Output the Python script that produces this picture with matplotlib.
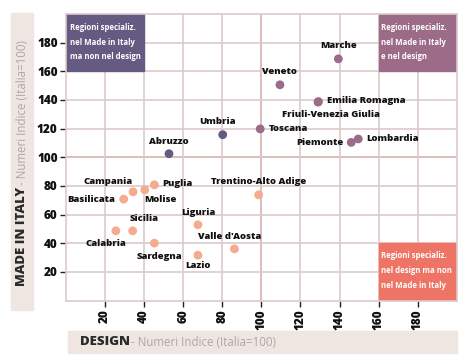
import matplotlib
matplotlib.use("Agg")
import matplotlib.pyplot as plt
from matplotlib.patches import Rectangle

plt.rcParams['font.family'] = ['Open Sans', 'DejaVu Sans']

# dati: indici design (x) e made in Italy (y), Italia = 100
regioni = ['Abruzzo', 'Umbria', 'Marche', 'Veneto', 'Emilia Romagna',
           'Friuli-Venezia Giulia', 'Toscana', 'Piemonte', 'Lombardia',
           'Campania', 'Basilicata', 'Puglia', 'Molise', 'Sicilia', 'Calabria',
           'Sardegna', 'Liguria', 'Lazio', "Valle d'Aosta", 'Trentino-Alto Adige']
design = [52.7, 80.2, 139.4, 109.5, 129.2, 129.0, 99.4, 146.0, 149.6,
          34.3, 29.5, 45.2, 40.3, 34.1, 25.5, 45.2, 67.5, 67.5, 86.2, 98.6]
made_in_italy = [102.5, 115.8, 168.7, 150.6, 138.9, 138.5, 119.8, 110.4, 112.8,
                 75.9, 70.8, 80.8, 77.3, 48.7, 48.7, 40.1, 52.9, 31.7, 36.1, 73.8]
gruppo = ['mi', 'mi', 'both', 'both', 'both', 'both', 'both', 'both', 'both',
          'none', 'none', 'none', 'none', 'none', 'none', 'none', 'none', 'none',
          'none', 'none']

colori = {'mi': '#655a82', 'both': '#9c6b88', 'none': '#f5ab8f', 'des': '#ee7566'}

# posizione etichette (offset in pixel, allineamento)
etichette = {
    'Abruzzo': (0, 12, 'center'), 'Umbria': (-5, 13, 'center'),
    'Marche': (0, 13, 'center'), 'Veneto': (0, 13, 'center'),
    'Emilia Romagna': (9, 1, 'left'), 'Friuli-Venezia Giulia': (13, -12, 'center'),
    'Toscana': (9, 0, 'left'), 'Piemonte': (-8, 0, 'right'),
    'Lombardia': (8, 0, 'left'), 'Campania': (-25, 10, 'center'),
    'Basilicata': (-9, 0, 'right'), 'Puglia': (8, 1, 'left'),
    'Molise': (16, -10, 'center'), 'Sicilia': (11, 12, 'center'),
    'Calabria': (-10, -13, 'center'), 'Sardegna': (5, -13, 'center'),
    'Liguria': (0, 12, 'center'), 'Lazio': (0, -10, 'center'),
    "Valle d'Aosta": (-5, 12, 'center'), 'Trentino-Alto Adige': (0, 13, 'center'),
}

fig = plt.figure(figsize=(4.71, 3.61), dpi=100)
ax = fig.add_axes([0.1403, 0.1673, 0.8293, 0.7939])
ax.set_xlim(0, 200)
ax.set_ylim(0, 200)

grid_col = '#dccbcb'
ticks = [20, 40, 60, 80, 100, 120, 140, 160, 180]
ax.set_xticks(ticks)
ax.set_yticks(ticks)
ax.grid(True, color=grid_col, lw=1.2, zorder=0)
for s in ax.spines.values():
    s.set_color(grid_col)
    s.set_linewidth(1.2)
ax.tick_params(axis='both', length=4, width=1, color='#222222', labelsize=8.5,
               labelcolor='#111111', pad=2)
ax.tick_params(axis='x', rotation=90)
for lab in ax.get_xticklabels() + ax.get_yticklabels():
    lab.set_fontweight('heavy')

ax.axvline(100, color='#e9685a', lw=1.2, zorder=1)
ax.axhline(100, color='#e9685a', lw=1.2, zorder=1)

# riquadri quadranti
ax.add_patch(Rectangle((0, 160), 40, 40, color=colori['mi'], zorder=2))
ax.add_patch(Rectangle((160, 160), 40, 40, color=colori['both'], zorder=2))
ax.add_patch(Rectangle((160, 0), 40, 40, color=colori['des'], zorder=2))

box_txt = dict(color='white', fontsize=5.6, fontweight='bold', va='center', zorder=3)
for i, riga in enumerate(['Regioni specializ.', 'nel Made in Italy', 'ma non nel design']):
    ax.text(2, 190.4 - 10.2 * i, riga, **box_txt)
for i, riga in enumerate(['Regioni specializ.', 'nel Made in Italy', 'e nel design']):
    ax.text(161.2, 190.4 - 10.2 * i, riga, **box_txt)
for i, riga in enumerate(['Regioni specializ.', 'nel design ma non', 'nel Made in Italy']):
    ax.text(161.2, 31.2 - 10.2 * i, riga, **box_txt)

ax.scatter(design, made_in_italy, s=40, c=[colori[g] for g in gruppo],
           linewidths=0, zorder=4)
for nome, x, y in zip(regioni, design, made_in_italy):
    dx, dy, ha = etichette[nome]
    ax.annotate(nome, (x, y), xytext=(dx, dy), textcoords='offset pixels',
                ha=ha, va='center', fontsize=6.8, fontweight='heavy',
                color='#111111', zorder=5)

# bande titoli assi
band = '#efe6e1'
fig.patches.append(Rectangle((0.0234, 0.1413), 0.0467, 0.8217, color=band,
                             transform=fig.transFigure, zorder=0))
fig.patches.append(Rectangle((0.1444, 0.023), 0.8253, 0.060, color=band,
                             transform=fig.transFigure, zorder=0))
ylab = fig.text(22 / 471, 1 - 286 / 361, 'MADE IN ITALY', rotation=90,
                rotation_mode='anchor', ha='left', va='center', fontsize=9.5,
                fontweight='heavy', color='#2a2a2a')
fig.draw_without_rendering()
fig.text(22 / 471, 0, '- Numeri Indice (Italia=100)', rotation=90,
         rotation_mode='anchor', ha='left', va='center', fontsize=8.3, color='#a9a9a9')
fig.texts[-1].set_y(ylab.get_window_extent().y1 / fig.bbox.height + 2 / 361)
xlab = fig.text(80 / 471, 1 - 342 / 361, 'DESIGN', ha='left', va='center',
                fontsize=9.5, fontweight='heavy', color='#2a2a2a')
fig.draw_without_rendering()
fig.text(xlab.get_window_extent().x1 / fig.bbox.width + 1 / 471, 1 - 342 / 361,
         '- Numeri Indice (Italia=100)', ha='left', va='center', fontsize=8.3,
         color='#a9a9a9')

fig.savefig('out.png', dpi=100)
